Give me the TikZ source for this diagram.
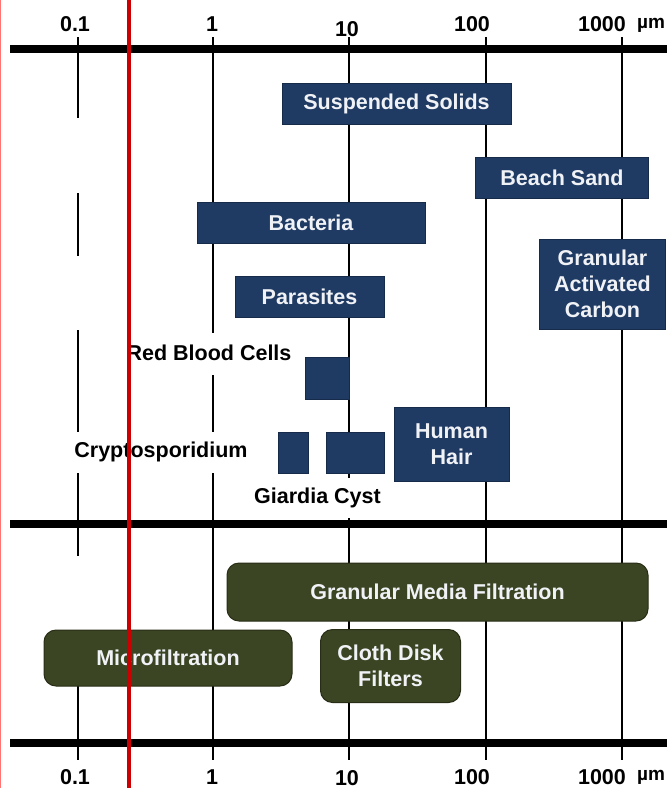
\documentclass[tikz,border=0pt]{standalone}
\usepackage{fontspec}
\setmainfont{Liberation Sans}
\definecolor{navyfill}{RGB}{31,58,99}
\definecolor{navyedge}{RGB}{22,42,74}
\definecolor{olivefill}{RGB}{59,68,35}
\definecolor{oliveedge}{RGB}{40,46,22}
\definecolor{redline}{RGB}{204,0,0}
\definecolor{boxtext}{RGB}{240,242,246}
\newcommand{\lblfont}{\fontsize{21.5}{26}\selectfont\bfseries}
\newcommand{\unitfont}{\fontsize{19}{21}\selectfont\bfseries}
\tikzset{
  vline/.style={line width=2pt, black},
  axisbar/.style={line width=8pt, black},
  navybox/.style={fill=navyfill, draw=navyedge, line width=1pt, text=boxtext, font=\lblfont, align=center, inner sep=0pt},
  olivebox/.style={fill=olivefill, draw=oliveedge, line width=1pt, rounded corners=12pt, text=boxtext, font=\lblfont, align=center, inner sep=0pt},
  blacklabel/.style={font=\lblfont, text=black, inner sep=0pt},
  ticklabel/.style={font=\lblfont, text=black, inner sep=0pt},
  unitlabel/.style={font=\unitfont, text=black, inner sep=0pt, anchor=base west},
}
\begin{document}
\begin{tikzpicture}[x=1pt,y=-1pt]
\useasboundingbox (0,0) rectangle (672,788);
\fill[white] (0,0) rectangle (672,788);

% vertical grid lines (with gaps as in the reference)
\draw[vline] (78,37) -- (78,118);
\draw[vline] (78,193) -- (78,256);
\draw[vline] (78,330) -- (78,432);
\draw[vline] (78,473) -- (78,556);
\draw[vline] (78,686) -- (78,760);
\draw[vline] (213,37) -- (213,333);
\draw[vline] (213,375) -- (213,432);
\draw[vline] (213,473) -- (213,760);
\draw[vline] (349,37) -- (349,478);
\draw[vline] (349,518) -- (349,760);
\draw[vline] (486,37) -- (486,760);
\draw[vline] (622,37) -- (622,760);

% horizontal axis bars
\draw[axisbar] (10,49) -- (667,49);
\draw[axisbar] (10,524) -- (667,524);
\draw[axisbar] (10,743) -- (667,743);

% tick labels
\node[ticklabel] (t01) at (75,24) {0.1};
\node[ticklabel] (t1) at (212,24) {1};
\node[ticklabel] (t10) at (347,29) {10};
\node[ticklabel] (t100) at (472,24) {100};
\node[ticklabel] (t1000) at (602,24) {1000};
\node[unitlabel] (tu) at (637,28) {µm};
\node[ticklabel] (b01) at (75,777) {0.1};
\node[ticklabel] (b1) at (212,777) {1};
\node[ticklabel] (b10) at (347,778) {10};
\node[ticklabel] (b100) at (472,777) {100};
\node[ticklabel] (b1000) at (602,777) {1000};
\node[unitlabel] (bu) at (637,780.5) {µm};

% particle boxes
\node[navybox, minimum width=229pt, minimum height=41pt] (ss) at (396.5,103.5) {Suspended Solids};
\node[navybox, minimum width=173pt, minimum height=41pt] (sand) at (562,178) {Beach Sand};
\node[navybox, minimum width=228pt, minimum height=41pt] (bact) at (311,222.5) {Bacteria};
\node[navybox, minimum width=126pt, minimum height=90pt] (gac) at (602.5,284) {Granular\\Activated\\Carbon};
\node[navybox, minimum width=149pt, minimum height=41pt] (para) at (309.5,297) {Parasites};
\node[navybox, minimum width=44pt, minimum height=42pt] (rbc) at (327,378.5) {};
\node[navybox, minimum width=30pt, minimum height=41pt] (crypto) at (293,452.5) {};
\node[navybox, minimum width=58pt, minimum height=41pt] (giardia) at (355,452.5) {};
\node[navybox, minimum width=115pt, minimum height=74pt] (hair) at (451.5,444) {Human\\Hair};

% particle labels
\node[blacklabel] (rbcl) at (209,353) {Red Blood Cells};
\node[blacklabel] (cryptol) at (161,452) {Cryptosporidium};
\node[blacklabel] (giardial) at (317.5,498) {Giardia Cyst};

% filtration boxes
\node[olivebox, minimum width=421pt, minimum height=58pt] (gmf) at (437.5,592) {Granular Media Filtration};
\node[olivebox, minimum width=248pt, minimum height=56pt] (micro) at (168,658) {Microfiltration};
\node[olivebox, minimum width=140pt, minimum height=73pt] (cloth) at (390.5,666) {Cloth Disk\\Filters};

% red marker line and left border
\draw[redline, line width=4pt] (129,0) -- (129,788);
\draw[red!55, line width=1.2pt] (0.6,0) -- (0.6,788);
\end{tikzpicture}
\end{document}
